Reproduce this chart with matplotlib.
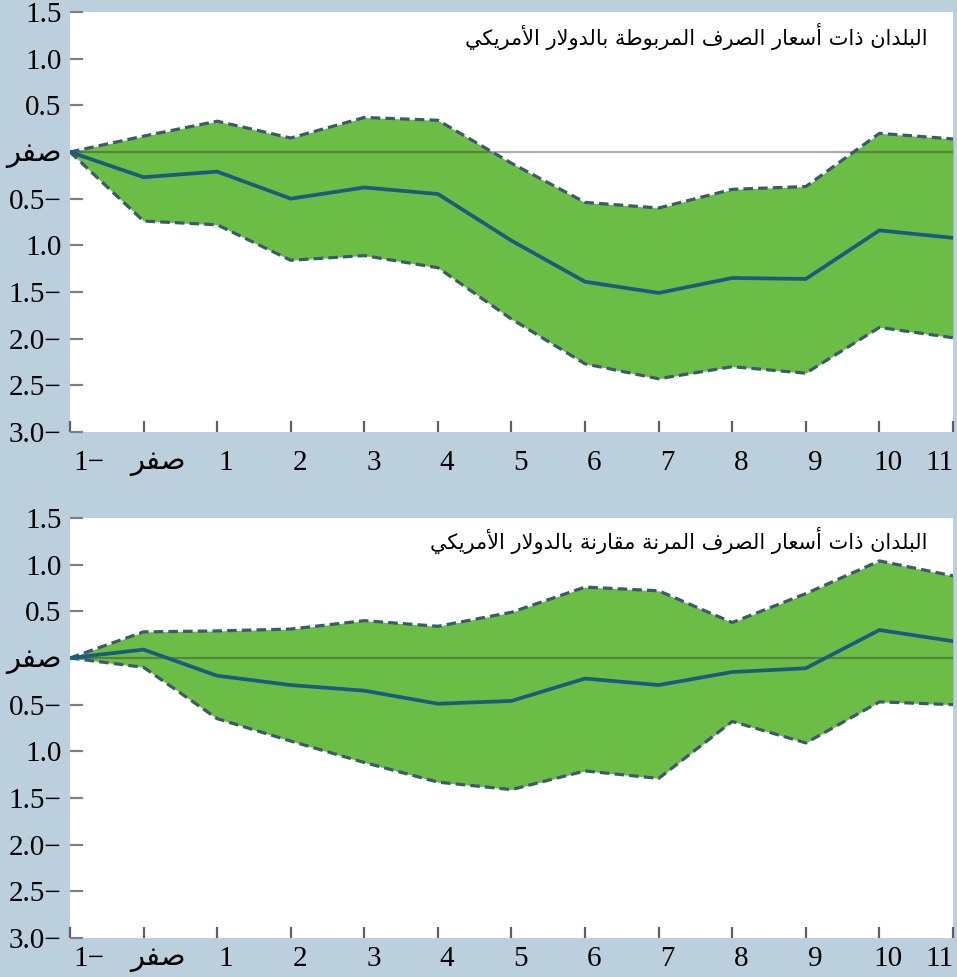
import matplotlib
matplotlib.use("Agg")
import matplotlib.pyplot as plt
from matplotlib.transforms import ScaledTranslation

# ---------------- data ----------------
periods = [-1, 0, 1, 2, 3, 4, 5, 6, 7, 8, 9, 10, 11]

# Countries with exchange rates pegged to the US dollar
peg_mid = [0.0, -0.27, -0.21, -0.50, -0.38, -0.45, -0.95, -1.39, -1.51, -1.35, -1.36, -0.84, -0.92]
peg_hi = [0.0, 0.17, 0.33, 0.15, 0.37, 0.34, -0.12, -0.54, -0.60, -0.40, -0.37, 0.20, 0.14]
peg_lo = [0.0, -0.74, -0.78, -1.16, -1.11, -1.24, -1.79, -2.27, -2.43, -2.30, -2.37, -1.88, -1.99]

# Countries with exchange rates flexible against the US dollar
flex_mid = [0.0, 0.09, -0.19, -0.29, -0.35, -0.49, -0.46, -0.22, -0.29, -0.15, -0.11, 0.30, 0.18]
flex_hi = [0.0, 0.28, 0.29, 0.31, 0.40, 0.34, 0.49, 0.76, 0.72, 0.38, 0.69, 1.04, 0.88]
flex_lo = [0.0, -0.10, -0.65, -0.89, -1.12, -1.33, -1.41, -1.21, -1.29, -0.68, -0.91, -0.47, -0.50]

title_peg = "البلدان ذات أسعار الصرف المربوطة بالدولار الأمريكي"
title_flex = "البلدان ذات أسعار الصرف المرنة مقارنة بالدولار الأمريكي"

y_ticks = [1.5, 1.0, 0.5, 0.0, -0.5, -1.0, -1.5, -2.0, -2.5, -3.0]
y_tick_labels = ["1.5", "1.0", "0.5", "صفر", "0.5−", "1.0", "1.5−", "2.0−", "2.5−", "3.0−"]
x_tick_labels = ["1−", "صفر", "1", "2", "3", "4", "5", "6", "7", "8", "9", "10", "11"]

# ---------------- Arabic shaping (presentation forms + RTL order) ----------------
# forms: (isolated, final, initial, medial); two-form letters only join to the right
_FORMS = {
    "\u0627": (0xFE8D, 0xFE8E), "\u0623": (0xFE83, 0xFE84), "\u0625": (0xFE87, 0xFE88),
    "\u0622": (0xFE81, 0xFE82), "\u0628": (0xFE8F, 0xFE90, 0xFE91, 0xFE92),
    "\u0629": (0xFE93, 0xFE94), "\u062A": (0xFE95, 0xFE96, 0xFE97, 0xFE98),
    "\u062B": (0xFE99, 0xFE9A, 0xFE9B, 0xFE9C), "\u062C": (0xFE9D, 0xFE9E, 0xFE9F, 0xFEA0),
    "\u062D": (0xFEA1, 0xFEA2, 0xFEA3, 0xFEA4), "\u062E": (0xFEA5, 0xFEA6, 0xFEA7, 0xFEA8),
    "\u062F": (0xFEA9, 0xFEAA), "\u0630": (0xFEAB, 0xFEAC), "\u0631": (0xFEAD, 0xFEAE),
    "\u0632": (0xFEAF, 0xFEB0), "\u0633": (0xFEB1, 0xFEB2, 0xFEB3, 0xFEB4),
    "\u0634": (0xFEB5, 0xFEB6, 0xFEB7, 0xFEB8), "\u0635": (0xFEB9, 0xFEBA, 0xFEBB, 0xFEBC),
    "\u0636": (0xFEBD, 0xFEBE, 0xFEBF, 0xFEC0), "\u0637": (0xFEC1, 0xFEC2, 0xFEC3, 0xFEC4),
    "\u0638": (0xFEC5, 0xFEC6, 0xFEC7, 0xFEC8), "\u0639": (0xFEC9, 0xFECA, 0xFECB, 0xFECC),
    "\u063A": (0xFECD, 0xFECE, 0xFECF, 0xFED0), "\u0641": (0xFED1, 0xFED2, 0xFED3, 0xFED4),
    "\u0642": (0xFED5, 0xFED6, 0xFED7, 0xFED8), "\u0643": (0xFED9, 0xFEDA, 0xFEDB, 0xFEDC),
    "\u0644": (0xFEDD, 0xFEDE, 0xFEDF, 0xFEE0), "\u0645": (0xFEE1, 0xFEE2, 0xFEE3, 0xFEE4),
    "\u0646": (0xFEE5, 0xFEE6, 0xFEE7, 0xFEE8), "\u0647": (0xFEE9, 0xFEEA, 0xFEEB, 0xFEEC),
    "\u0648": (0xFEED, 0xFEEE), "\u0649": (0xFEEF, 0xFEF0),
    "\u064A": (0xFEF1, 0xFEF2, 0xFEF3, 0xFEF4),
}
_LAM_ALEF = {"\u0622": (0xFEF5, 0xFEF6), "\u0623": (0xFEF7, 0xFEF8),
             "\u0625": (0xFEF9, 0xFEFA), "\u0627": (0xFEFB, 0xFEFC)}


def shape_arabic(text):
    # merge lam + alef into ligature tokens first
    tokens = []
    i = 0
    while i < len(text):
        c = text[i]
        if c == "\u0644" and i + 1 < len(text) and text[i + 1] in _LAM_ALEF:
            tokens.append(("LA", text[i + 1]))
            i += 2
        else:
            tokens.append(("C", c))
            i += 1

    def joins_left(tok):  # can connect to the following letter
        kind, c = tok
        return kind == "C" and c in _FORMS and len(_FORMS[c]) == 4

    def joins_right(tok):  # can connect to the preceding letter
        kind, c = tok
        return kind == "LA" or c in _FORMS

    out = []
    for k, tok in enumerate(tokens):
        prev_ok = k > 0 and joins_left(tokens[k - 1]) and joins_right(tok)
        next_ok = k + 1 < len(tokens) and joins_left(tok) and joins_right(tokens[k + 1])
        kind, c = tok
        if kind == "LA":
            iso, fin = _LAM_ALEF[c]
            out.append(chr(fin if prev_ok else iso))
        elif c in _FORMS:
            f = _FORMS[c]
            if len(f) == 2:
                out.append(chr(f[1] if prev_ok else f[0]))
            else:
                if prev_ok and next_ok:
                    out.append(chr(f[3]))
                elif prev_ok:
                    out.append(chr(f[1]))
                elif next_ok:
                    out.append(chr(f[2]))
                else:
                    out.append(chr(f[0]))
        else:
            out.append(c)
    return "".join(out)


def rtl(text):
    """Shape Arabic runs and lay them out right-to-left; digit runs keep their order."""
    if not any("\u0600" <= ch <= "\u06FF" for ch in text):
        return text
    return shape_arabic(text)[::-1]


# ---------------- style ----------------
BG = "#bccfdd"
GREEN = "#6cbd45"
BAND_EDGE = "#3b5a6e"
MID_LINE = "#1b5c7e"
NUM_FONT = ["Liberation Serif", "DejaVu Sans"]
AR_FONT = ["DejaVu Sans"]

W, H = 957, 977
fig = plt.figure(figsize=(W / 100, H / 100), dpi=100, facecolor=BG)

ax_left = 70 / W
ax_width = 883 / W
ax_height = 420 / H
panels = [
    dict(bottom=(H - 432) / H, mid=peg_mid, hi=peg_hi, lo=peg_lo, title=title_peg,
         title_y=(H - 37) / H, xpad=13),
    dict(bottom=(H - 938) / H, mid=flex_mid, hi=flex_hi, lo=flex_lo, title=title_flex,
         title_y=(H - 540) / H, xpad=6),
]

for p in panels:
    ax = fig.add_axes([ax_left, p["bottom"], ax_width, ax_height])
    ax.set_facecolor("white")
    for s in ax.spines.values():
        s.set_visible(False)

    ax.fill_between(periods, p["lo"], p["hi"], color=GREEN, lw=0, zorder=1)
    ax.axhline(0, color="#333333", alpha=0.4, lw=1.6, zorder=2)
    ax.plot(periods, p["hi"], color=BAND_EDGE, lw=2.3, ls=(0, (3, 1.6)), zorder=3)
    ax.plot(periods, p["lo"], color=BAND_EDGE, lw=2.3, ls=(0, (3, 1.6)), zorder=3)
    ax.plot(periods, p["mid"], color=MID_LINE, lw=2.7, zorder=4, solid_joinstyle="miter")

    ax.set_xlim(periods[0], periods[-1])
    ax.set_ylim(y_ticks[-1], y_ticks[0])

    ax.set_yticks(y_ticks)
    ax.set_yticklabels([rtl(t) for t in y_tick_labels])
    ax.set_xticks(periods)
    ax.set_xticklabels([rtl(t) for t in x_tick_labels])

    ax.tick_params(axis="y", direction="in", length=9, width=1.6, color="#808080",
                   pad=6, labelsize=21, labelcolor="black")
    ax.tick_params(axis="x", direction="in", length=8, width=1.6, color="#606060",
                   pad=p["xpad"], labelsize=21, labelcolor="black")
    for lab in ax.get_yticklabels() + ax.get_xticklabels():
        lab.set_family(NUM_FONT)

    # horizontal nudges of the period labels
    xlabs = ax.get_xticklabels()
    for i, lab in enumerate(xlabs):
        if i == 0:
            dx = 19
        elif i == 1:
            dx = 14
        elif i == len(xlabs) - 1:
            dx = -13
        else:
            dx = 9
        lab.set_transform(lab.get_transform() + ScaledTranslation(dx / 100, 0, fig.dpi_scale_trans))

    fig.text(928 / W, p["title_y"], rtl(p["title"]), ha="right", va="center",
             fontsize=15, family=AR_FONT, color="black")

fig.savefig("out.png", dpi=100, facecolor=BG)
